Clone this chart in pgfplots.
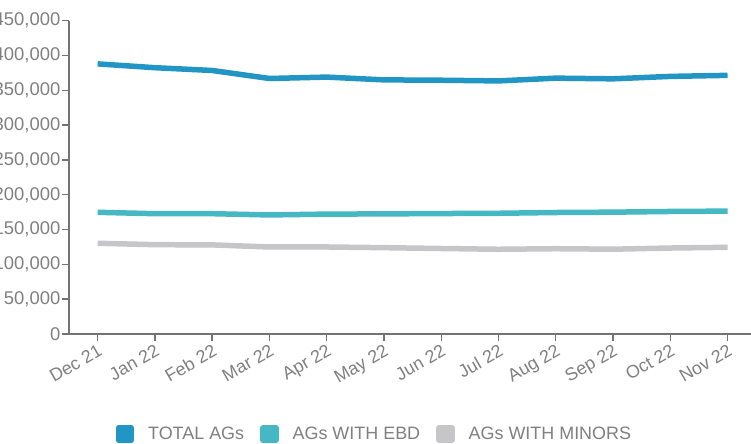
\documentclass[border=0pt]{standalone}
\usepackage{fontspec}
\setmainfont{Liberation Sans}
\usepackage{pgfplots}
\pgfplotsset{compat=1.18}

\definecolor{ctotal}{RGB}{33,150,196}
\definecolor{cebd}{RGB}{69,184,196}
\definecolor{cminor}{RGB}{198,197,200}
\definecolor{caxis}{RGB}{115,115,115}
\definecolor{ctext}{RGB}{128,128,128}

\begin{document}
\begin{tikzpicture}
\useasboundingbox (-69bp,-110bp) rectangle (682bp,334bp);
\clip (-69bp,-110bp) rectangle (682bp,334bp);
\begin{axis}[
  scale only axis,
  width=682bp, height=313.3bp,
  xmin=-0.5, xmax=11.41,
  ymin=0, ymax=450000,
  axis x line*=bottom, axis y line*=left,
  axis line style={caxis, line width=1.6bp},
  tick style={caxis, line width=1.4bp},
  tick align=outside, major tick length=7bp,
  xtick={0,...,11},
  xticklabels={Dec 21,Jan 22,Feb 22,Mar 22,Apr 22,May 22,Jun 22,Jul 22,Aug 22,Sep 22,Oct 22,Nov 22},
  xticklabel style={rotate=30, anchor=north east, font=\fontsize{18}{20}\selectfont, text=ctext, inner sep=1.5bp},
  ytick={0,50000,...,450000},
  yticklabel style={font=\fontsize{18.5}{20}\selectfont, text=ctext, inner sep=1.5bp},
  scaled y ticks=false,
  /pgf/number format/.cd, fixed, 1000 sep={,}, assume math mode=true,
  /pgfplots/.cd,
  legend columns=3,
  legend style={at={(axis description cs:0.447,-0.319)}, anchor=center, draw=none,
    font=\fontsize{18}{20}\selectfont, text=ctext, nodes={inner sep=1bp},
    /tikz/every odd column/.append style={column sep=13bp},
    /tikz/every even column/.append style={column sep=15bp}},
  legend image code/.code={\fill[#1] (0bp,-6bp) rectangle (13bp,6bp);},
  every axis plot/.append style={line width=5.5bp, line join=round},
]
\addplot[ctotal] coordinates {
  (0,388000) (1,382500) (2,378500) (3,367000) (4,369000) (5,365000)
  (6,364500) (7,363500) (8,367500) (9,366500) (10,370000) (11,371500)
};
\addlegendentry{TOTAL AGs}
\addplot[cebd] coordinates {
  (0,174800) (1,172800) (2,172800) (3,171000) (4,172200) (5,172500)
  (6,173000) (7,173400) (8,174500) (9,175000) (10,176000) (11,176500)
};
\addlegendentry{AGs WITH EBD}
\addplot[cminor] coordinates {
  (0,130300) (1,128300) (2,128000) (3,125000) (4,125000) (5,124000)
  (6,122800) (7,121700) (8,122500) (9,121800) (10,123500) (11,124500)
};
\addlegendentry{AGs WITH MINORS}
\end{axis}
\end{tikzpicture}
\end{document}
